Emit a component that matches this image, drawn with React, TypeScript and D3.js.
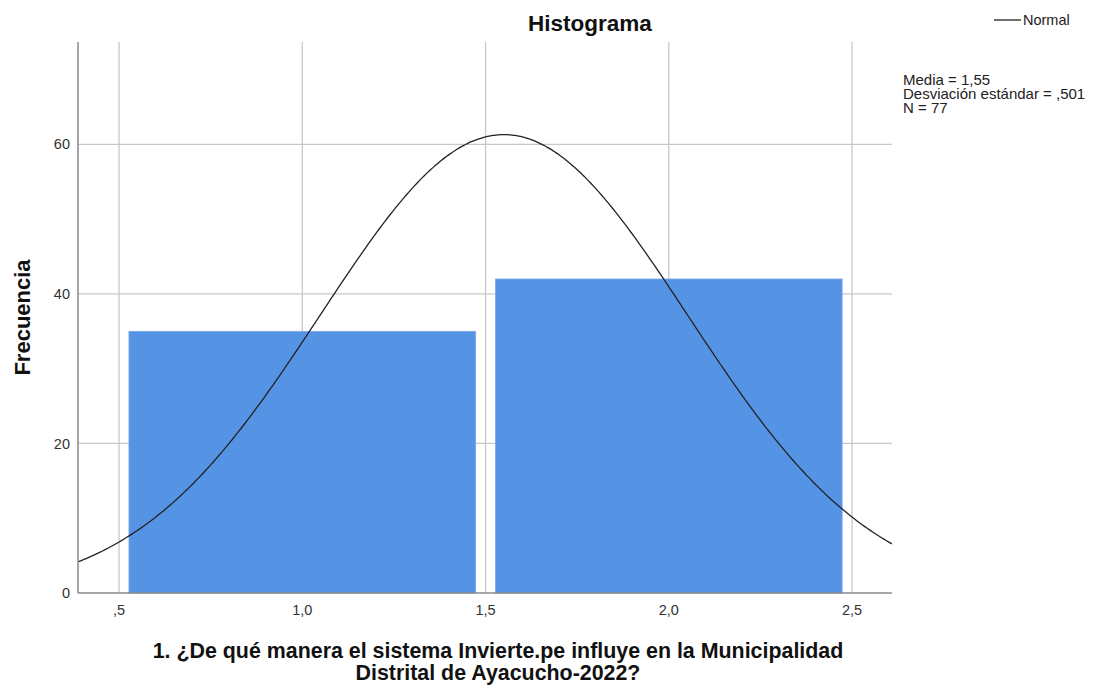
import * as d3 from 'd3'

// histogram bins (lower edge, upper edge) and counts
const binStarts = [0.5, 1.5]
const binEnds = [1.5, 2.5]
const counts = [35, 42]

const xTicks = [0.5, 1.0, 1.5, 2.0, 2.5]
const xTickLabels = [',5', '1,0', '1,5', '2,0', '2,5']
const yTicks = [0, 20, 40, 60]

// stats shown in the side box
const MEAN = 1.55
const SD = 0.501
const N = 77
const statLines = ['Media = 1,55', 'Desviación estándar = ,501', 'N = 77']

const W = 1093
const H = 685
const margin = { left: 78, right: 201, top: 42, bottom: 92 }

export default function App() {
  const x = d3.scaleLinear().domain([0.388, 2.609]).range([margin.left, W - margin.right])
  const y = d3.scaleLinear().domain([0, 73.7]).range([H - margin.bottom, margin.top])

  const binWidth = binEnds[0] - binStarts[0]
  const inset = 0.027
  const [x0, x1] = x.domain()
  const curvePts = d3.range(0, 301).map(i => {
    const v = x0 + (x1 - x0) * i / 300
    const z = (v - MEAN) / SD
    return [v, (N * binWidth) / (SD * Math.sqrt(2 * Math.PI)) * Math.exp(-0.5 * z * z)] as [number, number]
  })
  const line = d3.line<[number, number]>().x(d => x(d[0])).y(d => y(d[1])).curve(d3.curveBasis)

  const font = 'Arial, "Liberation Sans", sans-serif'
  const [yb, yt] = y.range()
  const [xl, xr] = x.range()

  return (
    <svg width={W} height={H} style={{ position: 'absolute', left: 0, top: 0, background: '#fff' }} fontFamily={font}>
      <defs>
        <clipPath id="plot">
          <rect x={xl} y={yt} width={xr - xl} height={yb - yt} />
        </clipPath>
      </defs>

      {/* grid */}
      {yTicks.slice(1).map(t => (
        <line key={'gy' + t} x1={xl} x2={xr} y1={y(t)} y2={y(t)} stroke="#c8c8c8" strokeWidth={1.3} />
      ))}
      {xTicks.map(t => (
        <line key={'gx' + t} x1={x(t)} x2={x(t)} y1={yt} y2={yb} stroke="#c8c8c8" strokeWidth={1.3} />
      ))}

      {/* bars */}
      {counts.map((c, i) => (
        <rect
          key={i}
          x={x(binStarts[i] + inset)}
          width={x(binEnds[i] - inset) - x(binStarts[i] + inset)}
          y={y(c)}
          height={yb - y(c)}
          fill="#5594e4"
          stroke="#7aaaea"
          strokeWidth={0.8}
        />
      ))}

      {/* normal curve */}
      <path d={line(curvePts) ?? ''} fill="none" stroke="#222" strokeWidth={1.3} clipPath="url(#plot)" />

      {/* axes */}
      <line x1={xl} x2={xl} y1={yt} y2={yb} stroke="#888" strokeWidth={1.5} />
      <line x1={xl} x2={xr} y1={yb} y2={yb} stroke="#888" strokeWidth={1.5} />

      {yTicks.map(t => (
        <text key={'ty' + t} x={xl - 8} y={y(t)} dy="0.35em" textAnchor="end" fontSize={14.5} fill="#333">{t}</text>
      ))}
      {xTicks.map((t, i) => (
        <text key={'tx' + t} x={x(t)} y={yb + 17} dy="0.35em" textAnchor="middle" fontSize={14.5} fill="#333">{xTickLabels[i]}</text>
      ))}

      {/* titles */}
      <text x={590} y={31} textAnchor="middle" fontSize={22.5} fontWeight="bold" fill="#111">Histograma</text>
      <text transform={`translate(30, ${(yt + yb) / 2}) rotate(-90)`} textAnchor="middle" fontSize={22} fontWeight="bold" fill="#111">Frecuencia</text>
      <text x={498} y={658} textAnchor="middle" fontSize={21.4} fontWeight="bold" fill="#111">1. ¿De qué manera el sistema Invierte.pe influye en la Municipalidad</text>
      <text x={498} y={680} textAnchor="middle" fontSize={21.4} fontWeight="bold" fill="#111">Distrital de Ayacucho-2022?</text>

      {/* legend */}
      <line x1={994} x2={1021} y1={20} y2={20} stroke="#222" strokeWidth={1.3} />
      <text x={1023} y={20} dy="0.35em" fontSize={14.5} fill="#222">Normal</text>
      {statLines.map((s, i) => (
        <text key={s} x={903} y={85 + i * 14} fontSize={15} fill="#222">{s}</text>
      ))}
    </svg>
  )
}
